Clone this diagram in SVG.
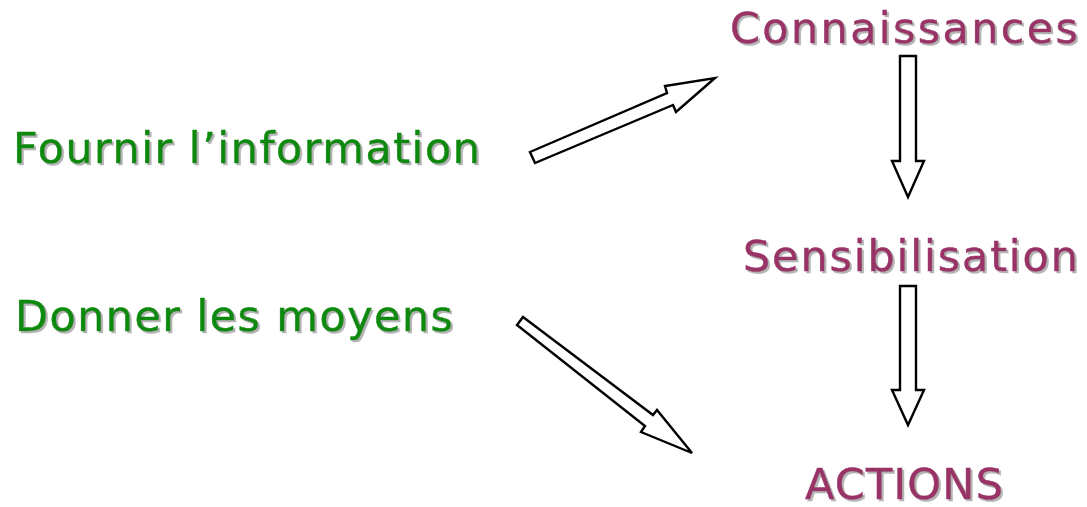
<svg xmlns="http://www.w3.org/2000/svg" width="1087" height="507" viewBox="0 0 1087 507">
  <defs>
    <filter id="shadow" x="-5%" y="-20%" width="110%" height="140%">
      <feFlood flood-color="#b4b4b4" result="c"/>
      <feComposite in="c" in2="SourceAlpha" operator="in" result="s"/>
      <feOffset in="s" dx="2" dy="2" result="o"/>
      <feMerge>
        <feMergeNode in="o"/>
        <feMergeNode in="SourceGraphic"/>
      </feMerge>
    </filter>
    <style>
      text { font-family: "DejaVu Sans", Verdana, sans-serif; font-size: 43px; stroke-width: 0.5; filter: url(#shadow); }
      .goal { fill: #993366; stroke: #993366; }
      .means { fill: #0a8a0a; stroke: #0a8a0a; }
      .arrow { fill: #ffffff; stroke: #000000; stroke-width: 2.4; stroke-linejoin: miter; }
    </style>
  </defs>
  <rect width="1087" height="507" fill="#ffffff"/>

  <g id="node-connaissances">
    <text class="goal" x="730" y="43" textLength="348" lengthAdjust="spacing">Connaissances</text>
  </g>
  <g id="node-sensibilisation">
    <text class="goal" x="743" y="271" textLength="335" lengthAdjust="spacing">Sensibilisation</text>
  </g>
  <g id="node-actions">
    <text class="goal" x="805" y="499" textLength="198" lengthAdjust="spacing">ACTIONS</text>
  </g>
  <g id="node-fournir">
    <text class="means" x="13" y="163" textLength="467" lengthAdjust="spacing">Fournir l’information</text>
  </g>
  <g id="node-donner">
    <text class="means" x="15" y="331" textLength="438" lengthAdjust="spacing">Donner les moyens</text>
  </g>

  <g id="connectors">
    <path class="arrow" d="M530,152 L667,93 L665,86 L715,78 L676,112 L673,105 L535,163 Z"/>
    <path class="arrow" d="M523,317 L653,415 L657,410 L692,453 L641,432 L645,426 L517,325 Z"/>
    <path class="arrow" d="M900,56 L916,56 L916,161 L924,161 L908,197 L892,161 L900,161 Z"/>
    <path class="arrow" d="M900,286 L916,286 L916,390 L924,390 L908,425 L892,390 L900,390 Z"/>
  </g>
</svg>
